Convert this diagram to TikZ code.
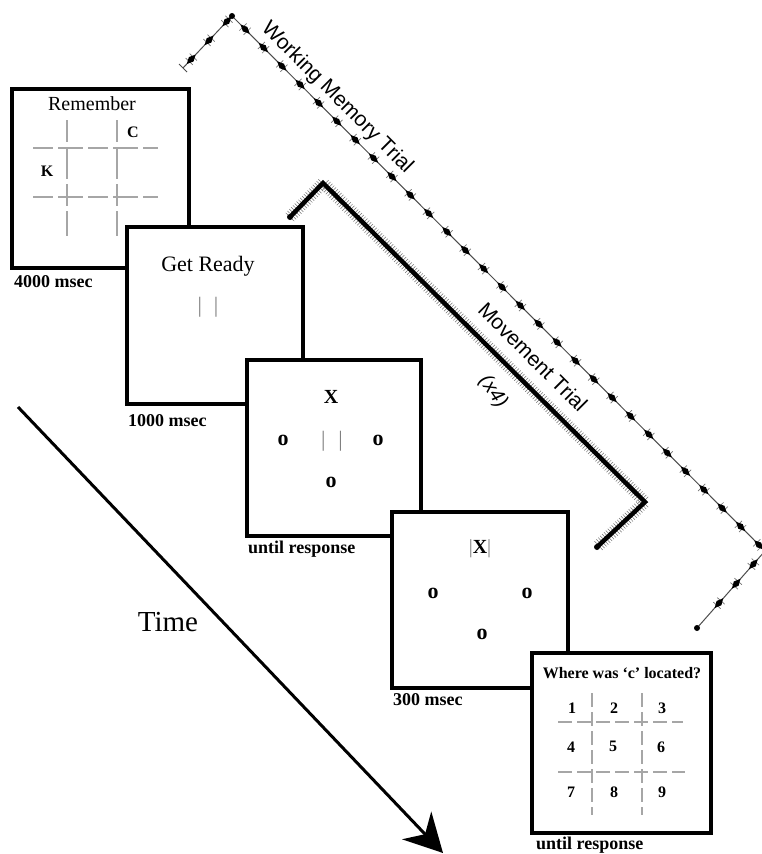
\documentclass[tikz,border=0pt]{standalone}
\usepackage{fontspec}
\setmainfont{Liberation Serif}
\setsansfont{Liberation Sans}
\usetikzlibrary{arrows.meta,decorations.markings}
\begin{document}
\begin{tikzpicture}[x=1pt,y=-1pt,
  box/.style={draw,line width=4pt,fill=white,inner sep=0pt,outer sep=0pt},
  gridln/.style={draw=gray!70,line width=1.2pt,dash pattern=on 17pt off 6pt},
  lbl/.style={font=\bfseries\fontsize{18}{18}\selectfont,anchor=west,inner sep=0pt},
  sym/.style={font=\bfseries\fontsize{20}{20}\selectfont,inner sep=0pt},
  oo/.style={font=\bfseries\fontsize{22}{22}\selectfont,inner sep=0pt},
  num/.style={font=\bfseries\fontsize{16}{16}\selectfont,inner sep=0pt},
  bars/.style={font=\fontsize{22}{22}\selectfont,text=gray,inner sep=0pt},
  trial/.style={font=\sffamily\fontsize{21}{21}\selectfont,rotate=-45,inner sep=0pt},
  wmline/.style={draw=black!70,line width=1pt,
    postaction={decorate,decoration={markings,
      mark=between positions 12pt and -8pt step 26pt with {
        \draw[black!55,line width=0.7pt] (-3pt,-5pt)--(-3pt,5pt) (3pt,-5pt)--(3pt,5pt);
        \fill (-6.5pt,0pt)--(0pt,3.2pt)--(6.5pt,0pt)--(0pt,-3.2pt)--cycle;}}}},
  mvline/.style={line width=4.5pt,line join=miter,
    preaction={decorate,decoration={markings,
      mark=between positions 0 and 1 step 2.6pt with {
        \draw[black!55,line width=0.5pt] (0pt,-6pt)--(0pt,6pt);}}}}
]
\useasboundingbox (0,0) rectangle (761,854);

% ---- brackets
\coordinate (wm1) at (183,68);
\coordinate (wm2) at (232,16);
\coordinate (wm3) at (765,551);
\coordinate (wm4) at (697,628);
\draw[wmline] (wm1) -- (wm2) -- (wm3) -- (wm4);
\draw[black!70,line width=1pt] ([shift={(-4,-4)}]wm1) -- ([shift={(4,4)}]wm1);
\fill (wm2) circle (3pt);
\fill (wm4) circle (3pt);
\node[trial] (wmt) at (337,98) {Working Memory Trial};

\coordinate (mv1) at (290,217);
\coordinate (mv2) at (323,183);
\coordinate (mv3) at (645,502);
\coordinate (mv4) at (597,547);
\draw[mvline] (mv1) -- (mv2) -- (mv3) -- (mv4);
\fill (mv1) circle (3pt);
\fill (mv4) circle (3pt);
\node[trial] (mvt) at (533,357) {Movement Trial};
\node[font=\sffamily\itshape\fontsize{20}{20}\selectfont,rotate=-55,inner sep=0pt] (x4) at (493,392) {(x4)};

% ---- time arrow
\coordinate (t0) at (18,407);
\coordinate (t1) at (443,853);
\draw[line width=3pt,-{Stealth[length=38pt,width=40pt,inset=12pt]}] (t0) -- (t1);
\node[font=\fontsize{29}{29}\selectfont,inner sep=0pt] (time) at (168,622) {Time};

% ---- box 1
\node[box,minimum width=177pt,minimum height=179pt] (b1) at (100.5,178.5) {};
\node[font=\fontsize{20}{20}\selectfont,inner sep=0pt] (rem) at (92,104) {Remember};
\draw[gridln,dash pattern=on 22pt off 5pt on 32pt off 5pt] (67,120) -- (67,236);
\draw[gridln,dash pattern=on 22pt off 5pt on 32pt off 5pt] (117,120) -- (117,236);
\draw[gridln,dash pattern=on 20pt off 5pt on 25pt off 5pt] (33,148) -- (158,148);
\draw[gridln,dash pattern=on 20pt off 5pt on 25pt off 5pt] (33,197) -- (158,197);
\node[font=\bfseries\fontsize{16}{16}\selectfont,inner sep=0pt] (c1) at (133,132) {C};
\node[font=\bfseries\fontsize{16}{16}\selectfont,inner sep=0pt] (k1) at (47,171) {K};
\node[lbl] (l1) at ([shift={(2,14)}]b1.south west) {4000 msec};

% ---- box 2
\node[box,minimum width=176pt,minimum height=177pt] (b2) at (215,315.5) {};
\node[font=\fontsize{22}{22}\selectfont,inner sep=0pt] (gr) at (208,266) {Get Ready};
\node[bars] (bar2) at (208,307) {|\hspace{12pt}|};
\node[lbl] (l2) at ([shift={(1,17)}]b2.south west) {1000 msec};

% ---- box 3
\node[box,minimum width=174pt,minimum height=176pt] (b3) at (334,448) {};
\node[sym] (x3) at (331,397) {X};
\node[oo] (o3a) at (283,440) {o};
\node[oo] (o3b) at (378,440) {o};
\node[oo] (o3c) at (331,482) {o};
\node[bars] (bar3) at (332,441) {|\hspace{13pt}|};
\node[lbl] (l3) at ([shift={(1,13)}]b3.south west) {until response};

% ---- box 4
\node[box,minimum width=176pt,minimum height=176pt] (b4) at (480,600) {};
\node[sym] (x4b) at (480,549) {\textcolor{gray}{\mdseries|}X\textcolor{gray}{\mdseries|}};
\node[oo] (o4a) at (433,593) {o};
\node[oo] (o4b) at (527,593) {o};
\node[oo] (o4c) at (482,634) {o};
\node[lbl] (l4) at ([shift={(1,12)}]b4.south west) {300 msec};

% ---- box 5
\node[box,minimum width=179pt,minimum height=180pt] (b5) at (621.5,743) {};
\node[font=\bfseries\fontsize{16}{16}\selectfont,inner sep=0pt] (q) at (622,673) {Where was `c' located?};
\draw[gridln,dash pattern=on 14pt off 5pt] (592,693) -- (592,815);
\draw[gridln,dash pattern=on 14pt off 5pt] (642,693) -- (642,815);
\draw[gridln,dash pattern=on 14pt off 5pt] (558,722) -- (683,722);
\draw[gridln,dash pattern=on 14pt off 5pt] (558,772) -- (685,772);
\node[num] (n1) at (572,708) {1};
\node[num] (n2) at (614,708) {2};
\node[num] (n3) at (662,708) {3};
\node[num] (n4) at (571,747) {4};
\node[num] (n5) at (613,746) {5};
\node[num] (n6) at (661,747) {6};
\node[num] (n7) at (571,792) {7};
\node[num] (n8) at (614,792) {8};
\node[num] (n9) at (662,792) {9};
\node[lbl] (l5) at ([shift={(4,12)}]b5.south west) {until response};
\end{tikzpicture}
\end{document}
